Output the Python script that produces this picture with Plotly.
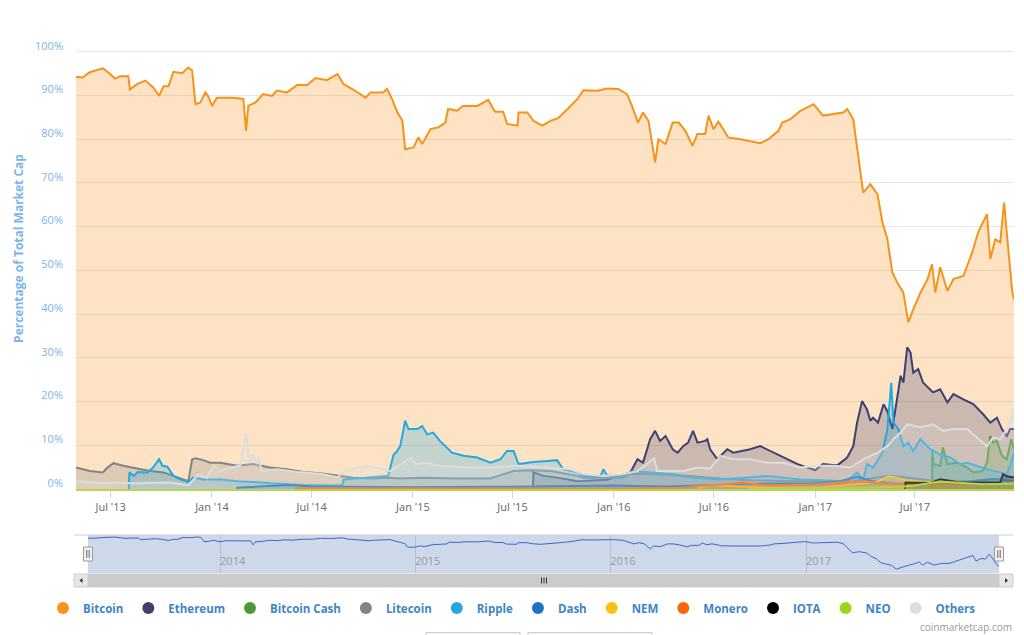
import plotly.graph_objects as go

# ---- data (share of total market cap, %) ----
btc_dates = ["2013-04-29","2013-05-11","2013-05-24","2013-06-11","2013-06-17","2013-06-30","2013-07-09","2013-07-18","2013-08-02","2013-08-05",
             "2013-08-18","2013-09-02","2013-09-16","2013-09-27","2013-10-05","2013-10-14","2013-10-23","2013-11-08","2013-11-19","2013-11-26",
             "2013-12-02","2013-12-11","2013-12-20","2013-12-25",
             "2014-01-01","2014-01-10","2014-01-28","2014-02-09","2014-02-27","2014-03-04",
             "2014-03-08","2014-03-21","2014-04-04","2014-04-20","2014-04-29","2014-05-17","2014-06-05","2014-06-23","2014-07-08","2014-07-29",
             "2014-08-17","2014-08-28","2014-09-15","2014-10-07","2014-10-16","2014-11-08","2014-11-15","2014-11-24","2014-12-04","2014-12-13",
             "2014-12-18",
             "2015-01-02","2015-01-11","2015-01-18","2015-02-02","2015-02-16","2015-03-01","2015-03-06","2015-03-22","2015-04-02",
             "2015-04-28","2015-05-18","2015-05-30","2015-06-14","2015-06-21","2015-07-10","2015-07-12","2015-07-28","2015-08-08","2015-08-24",
             "2015-09-08","2015-09-22","2015-10-09","2015-10-27","2015-11-07","2015-12-02","2015-12-20",
             "2016-01-09","2016-01-25","2016-02-03",
             "2016-02-14","2016-02-23","2016-03-04","2016-03-09","2016-03-16","2016-03-22","2016-04-04","2016-04-17","2016-04-28","2016-05-10",
             "2016-05-23","2016-06-01","2016-06-15","2016-06-21","2016-06-30","2016-07-09","2016-07-27","2016-08-18","2016-09-05","2016-09-23",
             "2016-10-08","2016-10-26","2016-11-02","2016-11-17","2016-12-05","2016-12-29",
             "2017-01-15","2017-02-21","2017-02-28","2017-03-11",
             "2017-03-24","2017-03-29","2017-04-11","2017-04-24","2017-05-03","2017-05-12","2017-05-21","2017-05-30","2017-06-10","2017-06-19",
             "2017-06-28","2017-07-11","2017-07-24","2017-08-01","2017-08-07","2017-08-16","2017-08-29","2017-09-09","2017-09-27","2017-10-13",
             "2017-10-24","2017-11-09","2017-11-15","2017-11-24","2017-12-03","2017-12-10","2017-12-17","2017-12-25","2017-12-28"]
btc_share = [94.3,94.1,95.3,95.9,96.2,94.9,93.8,94.4,94.4,91.4,
             92.6,93.4,91.9,89.9,92.1,92.1,95.4,95.1,96.4,95.7,
             88.0,88.4,90.7,89.9,
             87.6,89.5,89.5,89.5,89.2,81.9,
             87.6,88.4,90.3,89.9,91.1,90.7,92.4,92.4,94.0,93.5,
             94.9,92.6,91.3,89.5,90.7,90.7,91.5,89.2,86.1,84.2,
             77.7,
             78.1,80.4,78.9,82.3,82.7,83.8,86.9,86.5,87.6,
             87.6,89.0,86.3,86.3,83.5,83.1,86.1,86.1,84.2,83.1,
             84.2,84.8,86.9,89.2,91.2,91.1,91.6,
             91.5,90.3,87.6,
             83.8,86.1,84.2,80.0,74.7,80.0,78.9,83.8,83.8,81.9,
             78.5,81.2,81.2,85.4,82.3,84.0,80.4,80.0,79.6,79.1,
             80.0,81.9,83.8,84.6,86.5,88.0,
             85.4,86.1,86.9,84.6,
             72.4,67.8,69.7,67.4,61.0,57.1,49.5,47.2,44.9,38.1,
             41.1,44.9,48.0,51.4,44.9,50.7,45.3,48.0,48.7,54.1,
             58.7,62.9,52.6,57.1,56.4,65.5,55.6,44.9,43.4]

eth_dates = ["2015-08-07","2015-08-08","2015-08-26","2015-09-20","2015-10-27","2015-12-20",
             "2016-01-31","2016-02-13","2016-02-23","2016-03-07","2016-03-16","2016-03-25","2016-04-04","2016-04-17","2016-04-26","2016-05-06",
             "2016-05-15","2016-05-24","2016-06-01","2016-06-15","2016-06-19","2016-06-24","2016-07-07","2016-07-25","2016-08-05","2016-09-05",
             "2016-09-23","2016-10-11","2016-11-04","2016-11-30","2016-12-18",
             "2017-01-01","2017-01-15","2017-02-10","2017-02-28","2017-03-11","2017-03-18","2017-03-27","2017-04-05","2017-04-11","2017-04-16",
             "2017-04-25","2017-05-05","2017-05-12","2017-05-21","2017-05-30","2017-06-05","2017-06-10","2017-06-17","2017-06-23","2017-06-28",
             "2017-07-07","2017-07-16","2017-08-03","2017-08-16","2017-08-29","2017-09-09","2017-09-27","2017-10-15","2017-11-02","2017-11-15",
             "2017-11-27","2017-12-06","2017-12-15","2017-12-21","2017-12-28"]
eth_share = [0,3.8,3.0,2.6,1.8,2.1,
             3.8,6.8,6.0,11.4,13.3,11.0,12.1,9.1,8.3,9.8,
             10.6,13.3,10.6,11.0,11.4,9.1,6.8,9.1,8.3,9.1,
             9.8,8.7,7.2,5.7,4.9,
             4.3,5.7,5.4,7.2,9.8,15.2,20.1,18.2,15.6,16.3,
             15.2,19.4,17.8,13.7,21.3,25.9,24.3,32.4,31.2,26.6,
             27.4,24.3,22.1,22.8,19.8,21.7,20.5,19.4,17.1,15.2,
             16.3,13.7,12.1,13.7,13.7]

bch_dates = ["2017-08-01","2017-08-02","2017-08-03","2017-08-16","2017-08-21","2017-08-29","2017-09-16","2017-10-04","2017-10-15",
             "2017-11-01","2017-11-09","2017-11-15","2017-11-20","2017-11-27","2017-12-06","2017-12-15","2017-12-23","2017-12-28"]
bch_share = [0,9.1,5.7,5.3,9.5,5.7,6.0,4.9,3.8,4.1,6.0,12.1,10.6,11.0,7.6,6.8,11.4,9.1]

ltc_dates = ["2013-04-29","2013-05-24","2013-06-17","2013-06-25","2013-07-06","2013-07-24","2013-08-18","2013-09-11","2013-10-05","2013-10-30",
             "2013-11-19","2013-11-26","2013-12-02","2013-12-16","2013-12-29",
             "2014-01-16","2014-02-16","2014-03-17","2014-04-17","2014-05-17","2014-06-16","2014-07-17","2014-08-17","2014-09-15","2014-10-16",
             "2014-11-21","2014-12-09",
             "2015-01-20","2015-03-22","2015-05-22","2015-06-15","2015-07-03","2015-08-02","2015-09-08","2015-10-27","2015-11-07",
             "2016-01-18","2016-01-31","2016-03-20","2016-05-19","2016-07-13","2016-09-05","2016-12-05",
             "2017-02-28","2017-04-16","2017-05-17","2017-07-29","2017-10-10","2017-12-03","2017-12-28"]
ltc_share = [4.9,4.1,3.8,4.9,5.9,5.3,4.7,4.1,3.8,2.6,
             1.8,6.8,7.0,6.6,6.0,
             6.0,5.3,5.7,4.9,4.5,3.9,3.6,3.0,2.6,2.4,
             2.6,2.4,
             2.6,2.4,2.4,3.4,4.1,4.3,4.1,3.0,2.6,
             2.6,3.5,3.4,3.0,2.4,2.0,1.8,
             1.5,2.5,3.0,2.0,1.8,2.4,2.7]

xrp_dates = ["2013-08-03","2013-08-04","2013-08-12","2013-08-19","2013-09-06","2013-09-16","2013-09-27","2013-10-03","2013-10-12","2013-10-23",
             "2013-11-04","2013-11-19","2013-11-28","2013-12-16",
             "2014-01-16","2014-02-16","2014-03-17","2014-04-17","2014-06-16","2014-08-17","2014-08-26","2014-08-28","2014-10-16","2014-11-17",
             "2014-11-27","2014-12-01","2014-12-09","2014-12-18","2014-12-24",
             "2015-01-09","2015-01-18","2015-01-27","2015-02-07","2015-02-19","2015-03-01","2015-03-13","2015-04-03","2015-04-28","2015-05-22",
             "2015-06-09","2015-06-21","2015-07-03","2015-07-12","2015-08-08","2015-09-02","2015-09-20","2015-10-01","2015-10-27","2015-11-07",
             "2015-12-08","2015-12-13","2015-12-20",
             "2016-01-18","2016-02-05","2016-03-07","2016-04-18","2016-05-19","2016-07-13","2016-10-06","2016-12-05",
             "2017-02-28","2017-03-18","2017-03-29","2017-04-05","2017-04-16","2017-05-03","2017-05-12","2017-05-19","2017-05-23","2017-06-01",
             "2017-06-10","2017-06-19","2017-06-28","2017-07-11","2017-07-29","2017-08-16","2017-09-03","2017-09-21","2017-10-04","2017-10-22",
             "2017-11-09","2017-12-03","2017-12-15","2017-12-21","2017-12-28"]
xrp_share = [0,3.8,3.0,3.9,3.8,4.9,6.8,5.3,5.1,3.0,
             2.2,1.6,2.6,2.2,
             2.2,1.8,1.6,1.3,0.9,0.8,0.8,2.2,2.6,3.0,
             7.9,8.3,9.8,15.6,13.7,
             13.7,14.4,12.5,12.9,11.0,9.8,8.3,7.6,7.2,6.0,
             6.8,8.7,8.7,5.7,6.2,6.4,6.6,4.5,3.8,3.0,
             3.0,4.5,3.1,
             3.0,4.1,3.8,3.4,2.6,2.2,3.0,2.2,
             1.8,3.8,2.2,5.7,4.9,8.3,13.7,24.3,15.2,13.7,
             9.8,10.6,8.7,11.4,9.1,7.9,7.2,5.7,6.0,5.3,
             4.5,3.8,3.4,5.3,8.3]

dash_dates = ["2014-02-14","2014-05-20","2014-07-01","2014-10-01","2015-01-01","2015-06-01","2015-10-01","2016-01-01","2016-04-01","2016-07-01",
              "2016-10-01","2017-01-01","2017-02-15","2017-03-18","2017-04-15","2017-06-01","2017-08-15","2017-10-01","2017-11-20","2017-12-28"]
dash_share = [0.3,0.9,0.6,0.5,0.4,0.5,0.6,0.8,0.6,0.9,1.2,1.3,1.8,2.8,1.8,1.2,1.5,1.6,2.3,1.8]

nem_dates = ["2016-06-01","2016-06-28","2016-08-15","2016-11-01","2017-01-15","2017-03-15","2017-04-20","2017-05-15","2017-05-28","2017-06-15",
             "2017-07-15","2017-08-15","2017-09-20","2017-10-20","2017-11-20","2017-12-28"]
nem_share = [0.2,0.9,0.6,0.3,0.4,1.0,1.5,2.9,2.6,2.0,1.6,1.7,1.4,1.1,1.0,1.5]

xmr_dates = ["2014-06-01","2015-01-01","2016-01-01","2016-05-01","2016-08-25","2016-10-01","2016-12-01","2017-01-01","2017-02-15","2017-03-20",
             "2017-05-01","2017-07-01","2017-09-01","2017-11-01","2017-12-28"]
xmr_share = [0.2,0.2,0.1,0.3,1.5,0.8,0.9,1.1,1.5,1.8,1.3,1.0,1.2,1.0,1.2]

iota_dates = ["2017-06-13","2017-06-14","2017-07-29","2017-08-16","2017-09-21","2017-12-03","2017-12-08","2017-12-15","2017-12-28"]
iota_share = [0,1.5,1.4,2.2,1.5,1.5,3.4,2.9,2.6]

neo_dates = ["2016-09-01","2017-02-01","2017-06-01","2017-07-01","2017-08-15","2017-09-01","2017-10-01","2017-11-01","2017-12-28"]
neo_share = [0.05,0.1,0.5,0.8,1.7,1.6,1.3,1.1,1.2]

oth_dates = ["2013-04-29","2013-06-06","2013-08-19","2013-10-17","2013-11-19","2013-11-28","2013-12-07","2013-12-23",
             "2014-01-04","2014-01-16","2014-02-03","2014-02-21","2014-03-04","2014-03-10","2014-03-17","2014-03-24","2014-03-26","2014-04-02",
             "2014-04-29","2014-06-05","2014-07-17","2014-08-17","2014-08-28","2014-09-22","2014-10-10","2014-11-08","2014-11-21","2014-12-15",
             "2014-12-28",
             "2015-01-06","2015-01-20","2015-02-19","2015-04-21","2015-05-22","2015-07-10","2015-09-02","2015-10-14","2015-11-07","2015-12-13",
             "2016-01-18","2016-02-13","2016-03-14","2016-03-20","2016-05-06","2016-06-01","2016-06-24","2016-07-13","2016-08-05","2016-09-05",
             "2016-10-06","2016-11-04","2016-12-05",
             "2017-01-04","2017-02-03","2017-03-06","2017-03-29","2017-04-24","2017-05-12","2017-05-23","2017-06-05","2017-06-17","2017-07-11",
             "2017-08-03","2017-08-21","2017-09-09","2017-10-04","2017-10-22","2017-11-09","2017-11-20","2017-12-03","2017-12-15","2017-12-25",
             "2017-12-28"]
oth_share = [1.8,1.5,1.3,1.5,0.8,2.2,3.4,2.6,
             5.3,4.1,4.9,5.3,12.7,6.0,7.9,5.7,7.2,4.1,
             4.5,3.9,3.5,2.7,3.9,4.9,5.3,4.5,4.1,6.0,
             7.2,
             5.7,6.0,5.3,4.9,4.9,5.3,4.9,4.5,3.4,3.0,
             3.4,4.1,7.0,4.1,4.1,4.9,4.7,7.6,6.8,6.8,
             6.0,6.0,4.9,
             5.3,5.3,4.9,6.8,8.3,9.8,11.4,12.9,14.8,14.1,
             14.8,13.3,13.7,13.7,11.8,9.8,11.8,11.4,13.7,16.7,
             18.2]

coins = ["Bitcoin", "Ethereum", "Bitcoin Cash", "Litecoin", "Ripple", "Dash",
         "NEM", "Monero", "IOTA", "NEO", "Others"]
coin_colors = ["#f7931a", "#3e3f72", "#4a9b35", "#838383", "#23a8e0", "#1c75bc",
               "#fcc10f", "#ff6600", "#000000", "#9fd418", "#dddddd"]
series = [(btc_dates, btc_share), (eth_dates, eth_share), (bch_dates, bch_share),
          (ltc_dates, ltc_share), (xrp_dates, xrp_share), (dash_dates, dash_share),
          (nem_dates, nem_share), (xmr_dates, xmr_share), (iota_dates, iota_share),
          (neo_dates, neo_share), (oth_dates, oth_share)]

# ---- page geometry ----
# the page body has an 8px margin, so the figure is 8px smaller and every
# position below is given in page pixels and shifted back by OFF
OFF = 8
W, H = 1024 - OFF, 635 - OFF
PLOT_L, PLOT_R, PLOT_T, PLOT_B = 76, 1014, 8, 573   # page px of the paper area
ML, MR, MT, MB = PLOT_L - OFF, 1024 - PLOT_R, PLOT_T - OFF, 635 - PLOT_B
PW, PH = PLOT_R - PLOT_L, PLOT_B - PLOT_T


def fx(px):
    return (px - PLOT_L) / PW


def fy(py):
    return (PLOT_B - py) / PH


def rgba(hexc, a):
    h = hexc.lstrip("#")
    return "rgba(%d,%d,%d,%s)" % (int(h[0:2], 16), int(h[2:4], 16), int(h[4:6], 16), a)


fig = go.Figure()

for name, col, (d, v) in zip(coins, coin_colors, series):
    fig.add_trace(go.Scatter(
        x=d, y=v, name=name, legendgroup=name, showlegend=False,
        mode="lines", line=dict(color=col, width=2),
        fill="tozeroy", fillcolor=rgba(col, 0.26),
        hovertemplate=name + ": %{y:.1f}%<extra></extra>"))

# legend entries with round markers
for name, col in zip(coins, coin_colors):
    fig.add_trace(go.Scatter(
        x=[None], y=[None], name=name, legendgroup=name, mode="markers",
        marker=dict(color=col, size=12)))

# navigator series
fig.add_trace(go.Scatter(
    x=btc_dates, y=btc_share, xaxis="x2", yaxis="y2", mode="lines",
    line=dict(color="#4565c4", width=1), showlegend=False, hoverinfo="skip"))

x_range = [btc_dates[0], btc_dates[-1]]

shapes = []
# navigator mask + outline
shapes.append(dict(type="rect", xref="x2 domain", yref="y2 domain", x0=0, x1=1, y0=0, y1=1,
                   fillcolor="rgba(102,133,194,0.32)", line=dict(width=0), layer="below"))
shapes.append(dict(type="line", xref="paper", yref="paper", x0=fx(74), x1=fx(1013),
                   y0=fy(535), y1=fy(535), line=dict(color="#cccccc", width=1)))
# scrollbar
shapes.append(dict(type="rect", xref="paper", yref="paper", x0=fx(74), x1=fx(1013),
                   y0=fy(574), y1=fy(587), fillcolor="#f2f2f2", line=dict(width=0)))
shapes.append(dict(type="rect", xref="paper", yref="paper", x0=fx(88), x1=fx(999),
                   y0=fy(574), y1=fy(587), fillcolor="#cccccc", line=dict(color="#cccccc", width=1)))
for bx0, bx1 in [(74, 88), (999, 1013)]:
    shapes.append(dict(type="rect", xref="paper", yref="paper", x0=fx(bx0), x1=fx(bx1),
                       y0=fy(574), y1=fy(587), fillcolor="#e6e6e6", line=dict(color="#cccccc", width=1)))
shapes.append(dict(type="path", xref="paper", yref="paper",
                   path="M %f %f L %f %f L %f %f Z" % (fx(79.5), fy(580.5), fx(82.5), fy(578), fx(82.5), fy(583)),
                   fillcolor="#333333", line=dict(width=0)))
shapes.append(dict(type="path", xref="paper", yref="paper",
                   path="M %f %f L %f %f L %f %f Z" % (fx(1008), fy(580.5), fx(1005), fy(578), fx(1005), fy(583)),
                   fillcolor="#333333", line=dict(width=0)))
for gx in [541.5, 544, 546.5]:
    shapes.append(dict(type="line", xref="paper", yref="paper", x0=fx(gx), x1=fx(gx),
                       y0=fy(577.5), y1=fy(583.5), line=dict(color="#333333", width=1)))
# navigator handles
for hx in [88, 999]:
    shapes.append(dict(type="rect", xref="paper", yref="paper", x0=fx(hx - 4.5), x1=fx(hx + 4.5),
                       y0=fy(547), y1=fy(561), fillcolor="#f2f2f2", line=dict(color="#999999", width=1)))
    for dx in [-1.2, 1.2]:
        shapes.append(dict(type="line", xref="paper", yref="paper", x0=fx(hx + dx), x1=fx(hx + dx),
                           y0=fy(550), y1=fy(558), line=dict(color="#666666", width=1)))
# page buttons peeking in at the bottom
for bx0, bx1 in [(426, 520), (528, 652)]:
    shapes.append(dict(type="rect", xref="paper", yref="paper", x0=fx(bx0), x1=fx(bx1),
                       y0=fy(632.5), y1=fy(640), fillcolor="#f7f7f7", line=dict(color="#cccccc", width=1)))

fig.update_layout(
    width=W, height=H, autosize=False,
    margin=dict(l=ML, r=MR, t=MT, b=MB, pad=0, autoexpand=False),
    paper_bgcolor="white", plot_bgcolor="white",
    font=dict(family="Open Sans, sans-serif", size=11, color="#666666"),
    showlegend=True,
    legend=dict(orientation="h", xref="container", yref="container",
                x=(512 - OFF) / W, xanchor="center",
                y=(635 - 608) / H, yanchor="middle", bgcolor="rgba(0,0,0,0)",
                font=dict(size=11.5, color="#3d85c6", weight="bold"),
                itemclick=False, itemdoubleclick=False),
    xaxis=dict(type="date", range=x_range, domain=[0, 1], anchor="y",
               tickformat="%b '%y", dtick="M6", tick0="2013-01-01",
               ticks="outside", ticklen=7, tickcolor="#ccd6eb", showgrid=False,
               showline=True, linecolor="#b8d54f", linewidth=2,
               tickfont=dict(size=11, color="#666666"), fixedrange=True),
    yaxis=dict(domain=[fy(489), 1], range=[0, 110], anchor="x",
               tickvals=[0, 10, 20, 30, 40, 50, 60, 70, 80, 90, 100, 110],
               ticktext=["0%", "10%", "20%", "30%", "40%", "50%", "60%", "70%", "80%", "90%", "100%", ""],
               showgrid=True, gridcolor="#e6e6e6", zeroline=False, showline=False,
               tickfont=dict(size=11, color="#80b3ea"), ticklabelstandoff=12, ticklabelshift=-6,
               title=dict(text="Percentage of Total Market Cap", standoff=8,
                          font=dict(size=12, color="#7cb5ec", weight="bold")),
               fixedrange=True),
    xaxis2=dict(type="date", range=x_range, domain=[fx(88), fx(999)], anchor="y2",
                tickformat="%Y", dtick="M12", tick0="2014-01-01", ticks="",
                ticklabelposition="inside right", tickfont=dict(size=11, color="#999999"),
                showgrid=True, gridcolor="#b3bedb", showline=False, zeroline=False, fixedrange=True),
    yaxis2=dict(domain=[0, fy(535)], range=[31, 100], anchor="x2", showticklabels=False,
                showgrid=False, zeroline=False, fixedrange=True),
    shapes=shapes,
    annotations=[dict(text="coinmarketcap.com", xref="paper", yref="paper", x=1, xanchor="right",
                      y=fy(627), yanchor="middle", showarrow=False,
                      font=dict(size=10, color="#999999"))],
)

fig.write_html("out.html")
